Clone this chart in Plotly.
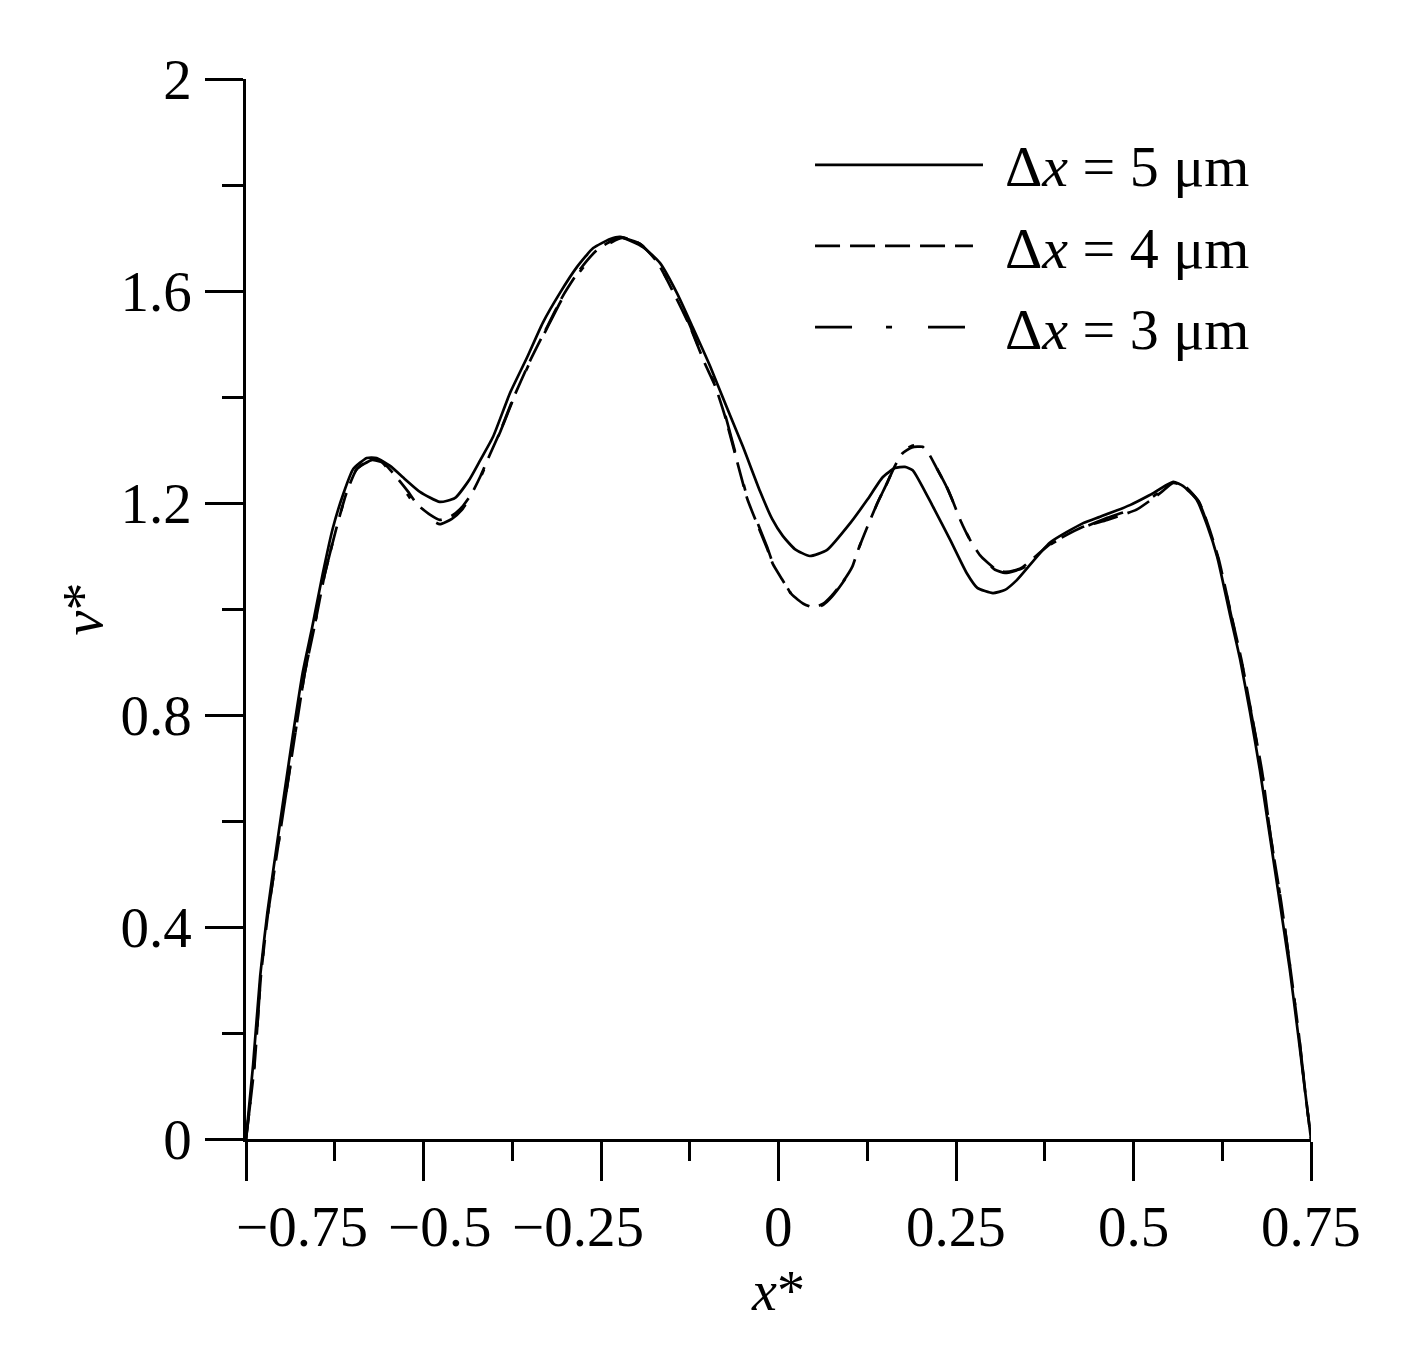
import plotly.graph_objects as go

# Δx = 5 µm (solid)
x_5um = [-0.750, -0.740, -0.730, -0.720, -0.706, -0.684, -0.670, -0.657, -0.642, -0.628,
         -0.613, -0.599, -0.580, -0.566, -0.547, -0.526, -0.505, -0.477, -0.456, -0.435,
         -0.420, -0.402, -0.378, -0.354, -0.332, -0.308, -0.284, -0.261, -0.237, -0.223,
         -0.191, -0.167, -0.143, -0.121, -0.096, -0.073, -0.050, -0.026, -0.009, 0.006,
         0.023, 0.044, 0.068, 0.101, 0.125, 0.147, 0.164, 0.178, 0.189, 0.218,
         0.242, 0.265, 0.280, 0.302, 0.319, 0.336, 0.382, 0.429, 0.453, 0.495,
         0.523, 0.556, 0.570, 0.589, 0.604, 0.618, 0.636, 0.650, 0.664, 0.678,
         0.692, 0.706, 0.720, 0.732, 0.742, 0.750]
v_5um = [0.000, 0.140, 0.308, 0.426, 0.560, 0.762, 0.881, 0.964, 1.066, 1.151,
         1.217, 1.264, 1.285, 1.285, 1.270, 1.245, 1.221, 1.202, 1.209, 1.245,
         1.281, 1.325, 1.408, 1.475, 1.540, 1.596, 1.645, 1.681, 1.698, 1.702,
         1.683, 1.653, 1.596, 1.532, 1.457, 1.381, 1.306, 1.222, 1.170, 1.138,
         1.113, 1.100, 1.111, 1.162, 1.206, 1.249, 1.266, 1.268, 1.262, 1.192,
         1.130, 1.068, 1.040, 1.030, 1.036, 1.055, 1.125, 1.162, 1.174, 1.196,
         1.215, 1.240, 1.232, 1.206, 1.157, 1.098, 0.989, 0.906, 0.806, 0.696,
         0.572, 0.447, 0.321, 0.196, 0.087, 0.000]

# Δx = 4 µm and Δx = 3 µm share the same sampling
x_fine = [-0.750, -0.738, -0.729, -0.719, -0.704, -0.681, -0.667, -0.654, -0.639, -0.623,
          -0.609, -0.594, -0.573, -0.559, -0.540, -0.522, -0.508, -0.491, -0.477, -0.460,
          -0.446, -0.432, -0.420, -0.406, -0.392, -0.374, -0.350, -0.326, -0.304, -0.280,
          -0.256, -0.235, -0.220, -0.195, -0.171, -0.149, -0.125, -0.104, -0.089, -0.075,
          -0.061, -0.044, -0.030, -0.016, -0.008, 0.005, 0.019, 0.035, 0.049, 0.063,
          0.075, 0.091, 0.104, 0.112, 0.126, 0.140, 0.153, 0.164, 0.174, 0.188,
          0.203, 0.213, 0.223, 0.237, 0.246, 0.256, 0.270, 0.284, 0.294, 0.305,
          0.319, 0.333, 0.344, 0.361, 0.382, 0.429, 0.463, 0.505, 0.537, 0.556,
          0.573, 0.592, 0.606, 0.620, 0.638, 0.652, 0.666, 0.681, 0.693, 0.708,
          0.721, 0.733, 0.742, 0.750]
v_4um = [0.000, 0.140, 0.308, 0.426, 0.560, 0.762, 0.881, 0.964, 1.066, 1.151,
         1.217, 1.264, 1.283, 1.279, 1.252, 1.222, 1.196, 1.178, 1.168, 1.176,
         1.192, 1.218, 1.250, 1.293, 1.335, 1.396, 1.468, 1.532, 1.590, 1.640,
         1.677, 1.695, 1.701, 1.689, 1.655, 1.600, 1.534, 1.464, 1.420, 1.362,
         1.292, 1.208, 1.160, 1.114, 1.085, 1.056, 1.027, 1.010, 1.003, 1.010,
         1.025, 1.052, 1.080, 1.111, 1.158, 1.202, 1.238, 1.270, 1.293, 1.305,
         1.306, 1.290, 1.265, 1.230, 1.202, 1.168, 1.130, 1.101, 1.088, 1.076,
         1.070, 1.073, 1.079, 1.098, 1.122, 1.155, 1.168, 1.188, 1.218, 1.238,
         1.231, 1.203, 1.155, 1.094, 0.987, 0.904, 0.804, 0.694, 0.572, 0.447,
         0.321, 0.196, 0.087, 0.000]
v_3um = [0.000, 0.140, 0.308, 0.426, 0.560, 0.762, 0.881, 0.964, 1.066, 1.151,
         1.217, 1.264, 1.281, 1.277, 1.247, 1.215, 1.187, 1.170, 1.160, 1.170,
         1.187, 1.215, 1.247, 1.291, 1.334, 1.394, 1.466, 1.530, 1.587, 1.636,
         1.674, 1.692, 1.700, 1.689, 1.655, 1.602, 1.536, 1.466, 1.423, 1.366,
         1.296, 1.211, 1.164, 1.117, 1.087, 1.058, 1.026, 1.008, 1.000, 1.008,
         1.023, 1.051, 1.079, 1.111, 1.158, 1.202, 1.238, 1.272, 1.296, 1.308,
         1.309, 1.291, 1.266, 1.230, 1.202, 1.168, 1.130, 1.100, 1.087, 1.074,
         1.068, 1.072, 1.077, 1.096, 1.121, 1.153, 1.172, 1.192, 1.221, 1.238,
         1.230, 1.202, 1.153, 1.092, 0.985, 0.902, 0.802, 0.692, 0.572, 0.447,
         0.321, 0.196, 0.087, 0.000]

series_names = ["Δ<i>x</i> = 5 μm", "Δ<i>x</i> = 4 μm", "Δ<i>x</i> = 3 μm"]
x_major = [-0.75, -0.5, -0.25, 0, 0.25, 0.5, 0.75]
x_labels = ["−0.75", "−0.5", "−0.25", "0", "0.25", "0.5", "0.75"]
x_label_pos = [-0.671, -0.477, -0.282, 0, 0.25, 0.5, 0.75]
x_minor = [-0.625, -0.375, -0.125, 0.125, 0.375, 0.625]
y_major = [0, 0.4, 0.8, 1.2, 1.6, 2.0]
y_labels = ["0", "0.4", "0.8", "1.2", "1.6", "2"]
y_minor = [0.2, 0.6, 1.0, 1.4, 1.8]

FONT = "Liberation Serif"
dashes = ["solid", "25px,10px", "37px,34px,6px,36px"]

fig = go.Figure()
for xs, ys, name, dash in [(x_5um, v_5um, series_names[0], dashes[0]),
                           (x_fine, v_4um, series_names[1], dashes[1]),
                           (x_fine, v_3um, series_names[2], dashes[2])]:
    fig.add_trace(go.Scatter(x=xs, y=ys, mode="lines", name=name, showlegend=False,
                             line=dict(color="black", width=2.7, dash=dash,
                                       shape="spline", smoothing=0.5)))

# hand-drawn legend (long line samples like the original)
legend_y = [0.919, 0.8425, 0.766]
legend_x1 = [0.692, 0.6826, 0.6751]
for name, dash, ly, lx1 in zip(series_names, dashes, legend_y, legend_x1):
    fig.add_shape(type="line", xref="paper", yref="paper", x0=0.5343, x1=lx1, y0=ly, y1=ly,
                  line=dict(color="black", width=2.7, dash=dash))
    fig.add_annotation(text=name, xref="paper", yref="paper", x=0.7108, y=ly - 0.002,
                       xanchor="left", yanchor="middle", showarrow=False,
                       font=dict(family=FONT, size=58, color="black"))

# x tick labels (the negative ones sit off their ticks in the original)
for pos, lab in zip(x_label_pos, x_labels):
    fig.add_annotation(text=lab, x=pos, xref="x", y=-0.083, yref="paper",
                       xanchor="center", yanchor="middle", showarrow=False,
                       font=dict(family=FONT, size=57, color="black"))

fig.update_xaxes(range=[-0.75, 0.75], showgrid=False, zeroline=False,
                 showline=True, linecolor="black", linewidth=2.5,
                 ticks="outside", ticklen=39, tickwidth=2.5, tickcolor="black",
                 tickvals=x_major, showticklabels=False,
                 minor=dict(ticks="outside", ticklen=19, tickwidth=2.5, tickcolor="black",
                            tickvals=x_minor),
                 title=dict(text="<i>x</i>*", standoff=92,
                            font=dict(family=FONT, size=56, color="black")))
fig.update_yaxes(range=[0, 2], showgrid=False, zeroline=False,
                 showline=True, linecolor="black", linewidth=2.5,
                 ticks="outside", ticklen=38, tickwidth=2.5, tickcolor="black",
                 tickvals=y_major, ticktext=y_labels, ticklabelstandoff=2,
                 tickfont=dict(family=FONT, size=57, color="black"),
                 minor=dict(ticks="outside", ticklen=21, tickwidth=2.5, tickcolor="black",
                            tickvals=y_minor),
                 title=dict(text="<i>v</i>*", standoff=0,
                            font=dict(family=FONT, size=56, color="black")))

fig.update_layout(width=1426, height=1351, plot_bgcolor="white", paper_bgcolor="white",
                  margin=dict(l=238, r=123, t=71, b=220, autoexpand=False),
                  font=dict(family=FONT, color="black"))

fig.write_html("out.html")
